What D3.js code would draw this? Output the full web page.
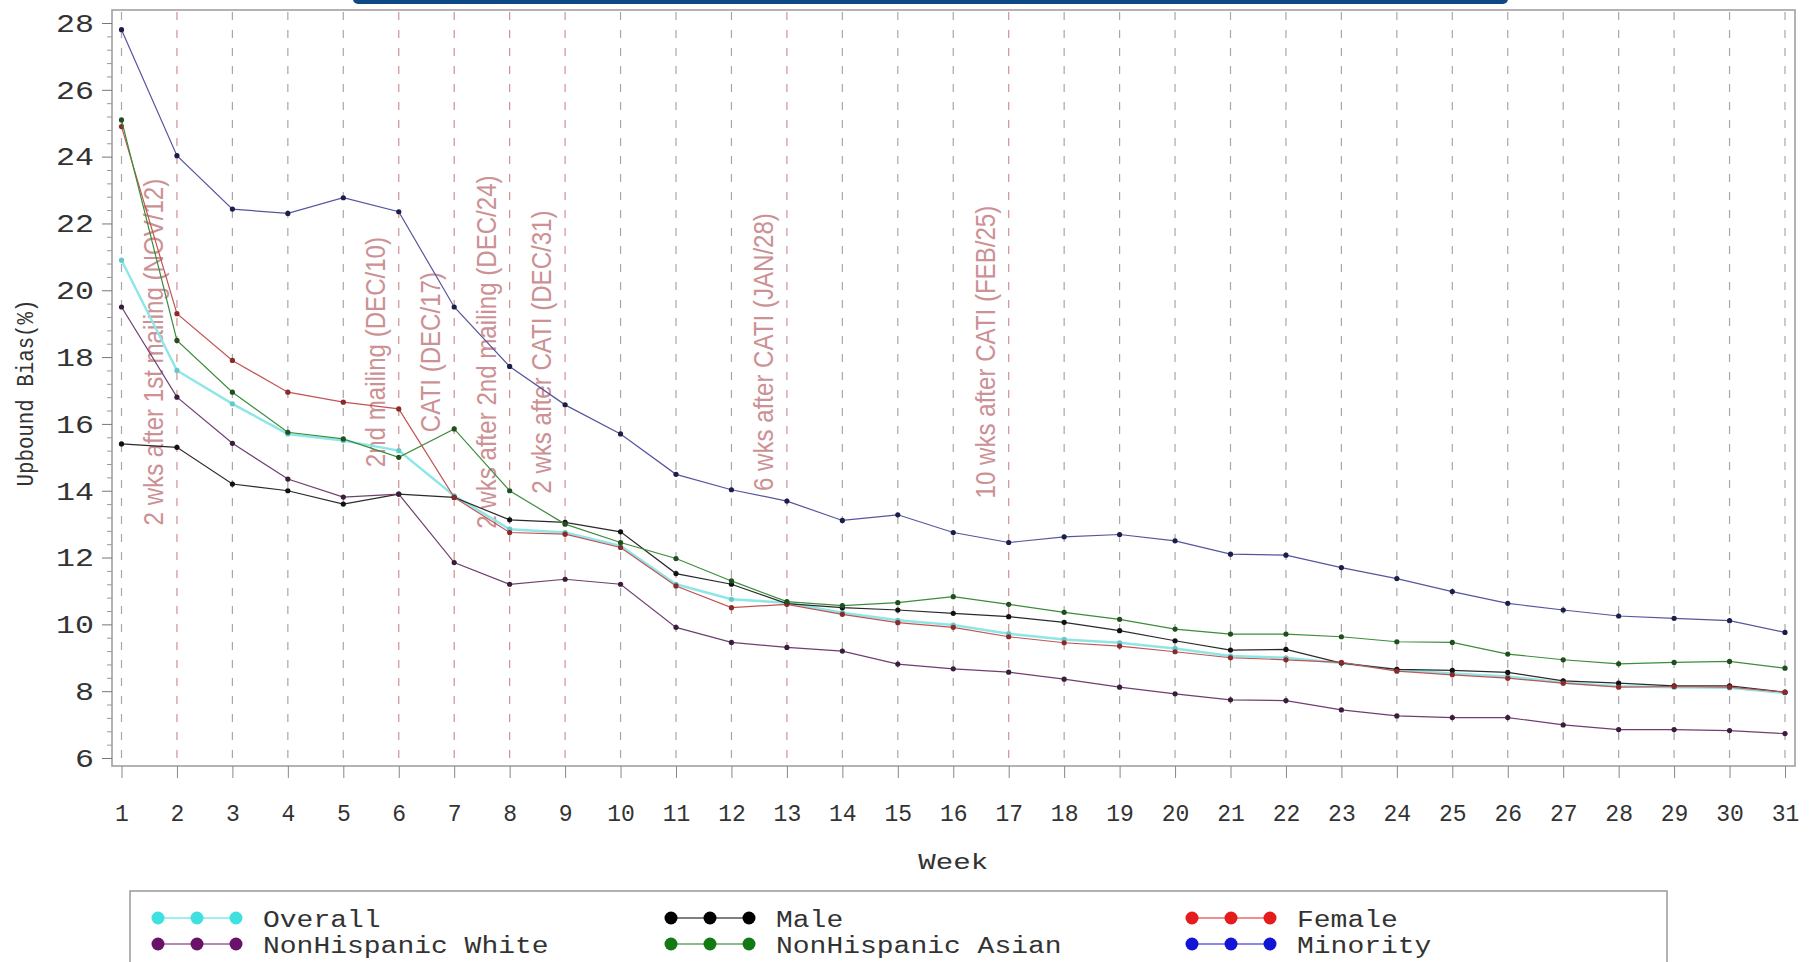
<!DOCTYPE html>
<html>
<head>
<meta charset="utf-8">
<script src="https://cdnjs.cloudflare.com/ajax/libs/d3/7.8.5/d3.min.js"></script>
<style>
	body { margin: 0; background: #fff; }
	#canvas { width: 1814px; height: 962px; }
	.mono { font-family: "Liberation Mono", "DejaVu Sans Mono", monospace; fill: #333; }
	.note { font-family: "Liberation Sans", Arial, sans-serif; fill: #cc9194; }
</style>
</head>
<body>
<div id="canvas"></div>
<script>
var weeks = [1,2,3,4,5,6,7,8,9,10,11,12,13,14,15,16,17,18,19,20,21,22,23,24,25,26,27,28,29,30,31];
var yTicks = [6,8,10,12,14,16,18,20,22,24,26,28];

var overall = [20.9,17.6,16.6,15.7,15.5,15.2,13.85,12.85,12.75,12.35,11.2,10.75,10.65,10.35,10.12,9.98,9.72,9.55,9.45,9.28,9.05,9.0,8.84,8.64,8.53,8.44,8.25,8.15,8.12,8.1,7.95];
var male = [15.4,15.3,14.2,14.0,13.6,13.9,13.8,13.13,13.05,12.77,11.52,11.2,10.62,10.5,10.43,10.33,10.23,10.06,9.81,9.51,9.23,9.25,8.84,8.65,8.62,8.56,8.31,8.24,8.16,8.16,7.97];
var female = [24.9,19.3,17.9,16.95,16.65,16.45,13.8,12.75,12.7,12.3,11.15,10.5,10.6,10.3,10.05,9.91,9.63,9.45,9.35,9.18,9.0,8.94,8.86,8.6,8.49,8.39,8.24,8.12,8.14,8.12,7.97];
var nhWhite = [19.5,16.8,15.42,14.35,13.81,13.9,11.85,11.2,11.35,11.2,9.91,9.46,9.31,9.2,8.81,8.67,8.57,8.36,8.12,7.92,7.74,7.72,7.44,7.26,7.21,7.21,6.99,6.85,6.85,6.82,6.73];
var nhAsian = [25.1,18.5,16.95,15.75,15.55,15.0,15.85,14.0,13.0,12.45,11.97,11.3,10.68,10.56,10.65,10.83,10.6,10.36,10.15,9.86,9.71,9.71,9.63,9.48,9.46,9.11,8.94,8.82,8.86,8.89,8.69];
var minority = [27.8,24.03,22.43,22.3,22.77,22.35,19.5,17.72,16.57,15.7,14.49,14.03,13.69,13.11,13.28,12.75,12.45,12.62,12.69,12.5,12.1,12.07,11.7,11.37,10.98,10.63,10.43,10.25,10.18,10.11,9.76];

var seriesNames = ["Overall","Male","Female","NonHispanic White","NonHispanic Asian","Minority"];
var seriesValues = [overall, male, female, nhWhite, nhAsian, minority];

var noteWeeks = [2,6,7,8,9,13,17];
var noteLabels = [
	"2 wks after 1st mailing (NOV/12)",
	"2nd mailing (DEC/10)",
	"CATI (DEC/17)",
	"2 wks after 2nd mailing (DEC/24)",
	"2 wks after CATI (DEC/31)",
	"6 wks after CATI (JAN/28)",
	"10 wks after CATI (FEB/25)"
];

drawVis();

function drawVis(){
	var w = 1814, h = 962;
	var lineColors = {"Overall":"#8fe6e6","Male":"#2a2a2a","Female":"#c25454","NonHispanic White":"#6e3f6e","NonHispanic Asian":"#3c8c3c","Minority":"#55559e"};
	var dotColors = {"Overall":"#66c8c8","Male":"#111","Female":"#8a2a2a","NonHispanic White":"#3a1d3a","NonHispanic Asian":"#1f4f1f","Minority":"#1d1d4a"};
	var legendColors = {"Overall":"#3fe0e0","Male":"#000","Female":"#e61c1c","NonHispanic White":"#6a126a","NonHispanic Asian":"#137a13","Minority":"#1414d6"};

	var svg = d3.select("#canvas")
		.append("svg")
		.attr("width", w)
		.attr("height", h);

	var frame = {left: 112, top: 10, right: 1795, bottom: 766};

	var x = d3.scaleLinear()
		.domain([1,31])
		.range([121.5, 1785]);

	var y = d3.scaleLinear()
		.domain([6,28])
		.range([758, 23]);

	// title box edge peeking in at the top
	svg.append("rect")
		.attr("x", 353)
		.attr("y", -12)
		.attr("width", 1155)
		.attr("height", 16)
		.attr("rx", 5)
		.attr("fill", "#0d4a85");

	// week reference lines
	svg.append("g")
		.selectAll("line")
		.data(weeks)
		.enter()
		.append("line")
		.attr("x1", function(d){ return x(d); })
		.attr("x2", function(d){ return x(d); })
		.attr("y1", frame.top + 2)
		.attr("y2", frame.bottom)
		.attr("stroke", function(d){ return noteWeeks.indexOf(d) > -1 ? "#cf9292" : "#a8a8a8"; })
		.attr("stroke-width", 1.2)
		.attr("stroke-dasharray", "8,10");

	svg.append("rect")
		.attr("x", frame.left)
		.attr("y", frame.top)
		.attr("width", frame.right - frame.left)
		.attr("height", frame.bottom - frame.top)
		.attr("fill", "none")
		.attr("stroke", "#9a9a9a")
		.attr("stroke-width", 1.5);

	// annotations
	svg.append("g")
		.selectAll("text")
		.data(noteWeeks)
		.enter()
		.append("text")
		.attr("class", "note")
		.attr("font-size", 28)
		.attr("text-anchor", "middle")
		.attr("transform", function(d){ return "translate(" + (x(d) - 14) + "," + y(18.15) + ") rotate(-90)"; })
		.text(function(d,i){ return noteLabels[i]; })
		.each(function(){
			var len = this.getComputedTextLength();
			d3.select(this)
				.attr("textLength", len * 0.86)
				.attr("lengthAdjust", "spacingAndGlyphs");
		});

	// y axis
	var yAxis = svg.append("g")
		.attr("transform", "translate(" + frame.left + ",0)")
		.call(d3.axisLeft(y).tickValues(yTicks).tickSize(10).tickPadding(8));
	yAxis.select(".domain").remove();
	yAxis.selectAll("line").attr("stroke", "#777");
	yAxis.selectAll("text")
		.attr("class", "mono")
		.attr("font-size", 26)
		.attr("font-family", null)
		.attr("textLength", function(d){ return String(d).length * 19; })
		.attr("lengthAdjust", "spacingAndGlyphs");

	var minorTicks = d3.range(6, 28.01, 0.4).filter(function(v){ return Math.abs(v - Math.round(v/2)*2) > 0.01; });
	var yMinor = svg.append("g")
		.attr("transform", "translate(" + frame.left + ",0)")
		.call(d3.axisLeft(y).tickValues(minorTicks).tickSize(5).tickFormat(""));
	yMinor.select(".domain").remove();
	yMinor.selectAll("line").attr("stroke", "#999");

	// x axis
	var xAxis = svg.append("g")
		.attr("transform", "translate(0," + frame.bottom + ")")
		.call(d3.axisBottom(x).tickValues(weeks).tickSize(12).tickPadding(27).tickFormat(d3.format("d")));
	xAxis.select(".domain").remove();
	xAxis.selectAll("line").attr("stroke", "#888");
	xAxis.selectAll("text")
		.attr("class", "mono")
		.attr("font-size", 23)
		.attr("font-family", null);

	svg.append("text")
		.attr("class", "mono")
		.attr("x", (x(1) + x(31)) / 2)
		.attr("y", 861)
		.attr("dy", "0.35em")
		.attr("text-anchor", "middle")
		.attr("font-size", 22)
		.attr("textLength", 70)
		.attr("lengthAdjust", "spacingAndGlyphs")
		.text("Week");

	svg.append("text")
		.attr("class", "mono")
		.attr("transform", "translate(33," + 393 + ") rotate(-90)")
		.attr("text-anchor", "middle")
		.attr("font-size", 24)
		.attr("textLength", 187)
		.attr("lengthAdjust", "spacingAndGlyphs")
		.text("Upbound Bias(%)");

	// series
	var line = d3.line()
		.x(function(d,i){ return x(weeks[i]); })
		.y(function(d){ return y(d); });

	svg.selectAll(".series")
		.data(seriesNames)
		.enter()
		.append("g")
		.attr("class", "series")
		.each(function(name, k){
			var g = d3.select(this);
			g.append("path")
				.datum(seriesValues[k])
				.attr("d", line)
				.attr("fill", "none")
				.attr("stroke", lineColors[name])
				.attr("stroke-width", name === "Overall" ? 2.5 : 1.2);
			g.selectAll("circle")
				.data(seriesValues[k])
				.enter()
				.append("circle")
				.attr("cx", function(d,i){ return x(weeks[i]); })
				.attr("cy", function(d){ return y(d); })
				.attr("r", 2.6)
				.attr("fill", dotColors[name]);
		});

	// legend
	svg.append("rect")
		.attr("x", 130)
		.attr("y", 891)
		.attr("width", 1537)
		.attr("height", 120)
		.attr("fill", "none")
		.attr("stroke", "#999")
		.attr("stroke-width", 1.5);

	var colX = [158, 671, 1192];
	var rowY = [918, 944];
	svg.selectAll(".legend")
		.data(seriesNames)
		.enter()
		.append("g")
		.attr("class", "legend")
		.attr("transform", function(d,i){
			return "translate(" + colX[i % 3] + "," + rowY[Math.floor(i / 3)] + ")";
		})
		.each(function(d){
			var g = d3.select(this);
			var c = legendColors[d];
			g.append("line")
				.attr("x1", 0)
				.attr("x2", 78)
				.attr("stroke", c)
				.attr("stroke-width", 1.2);
			g.selectAll("circle")
				.data([0, 39, 78])
				.enter()
				.append("circle")
				.attr("cx", function(v){ return v; })
				.attr("cy", 0)
				.attr("r", 6.5)
				.attr("fill", c);
			g.append("text")
				.attr("class", "mono")
				.attr("x", 105)
				.attr("y", 9)
				.attr("font-size", 23)
				.attr("textLength", d.length * 16.8)
				.attr("lengthAdjust", "spacingAndGlyphs")
				.text(d);
		});
}
</script>
</body>
</html>
